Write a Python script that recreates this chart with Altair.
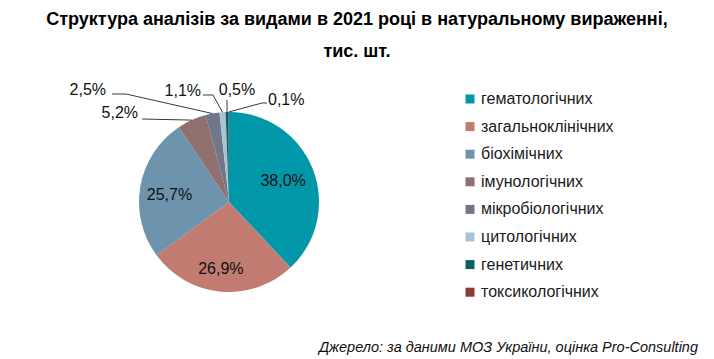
import math
import altair as alt
import pandas as pd

# ---------------- data ----------------
categories = ["гематологічних", "загальноклінічних", "біохімічних", "імунологічних",
              "мікробіологічних", "цитологічних", "генетичних", "токсикологічних"]
shares = [38.0, 26.9, 25.7, 5.2, 2.5, 1.1, 0.5, 0.1]
colors = ["#0098A8", "#C17B71", "#6E94AD", "#8F706E",
          "#71768A", "#A9C3D4", "#0C5F63", "#8B3B31"]
title_lines = ["Структура аналізів за видами в 2021 році в натуральному вираженні,",
               "тис. шт."]
source_text = "Джерело: за даними МОЗ України, оцінка Pro-Consulting"

# ---------------- layout ----------------
W, H = 698, 283
PAD_TOP, PAD_BOTTOM = 60, 6
CX, CY, R = 221, 134, 90
LABEL_R = 62
FONT = "Liberation Sans"

# inside label nudges (pixels, y down)
inside_nudge = {
    "гематологічних": (-3.5, 2),
    "загальноклінічних": (-2.5, 5),
    "біохімічних": (1.5, 4),
}
# outside label placement (pixel offsets from pie centre, y down)
outside_layout = {
    "імунологічних":    dict(tx=-91,  ty=-89,  align="right",  p0=(-87, -83),  p1=(-87, -83)),
    "мікробіологічних": dict(tx=-123, ty=-112, align="right",  p0=(-117, -108), p1=(-103, -108)),
    "цитологічних":     dict(tx=-28,  ty=-111, align="right",  p0=(-26, -107), p1=(-16, -107)),
    "генетичних":       dict(tx=8,    ty=-112, align="center", p0=(-2, -102),  p1=(-2, -102)),
    "токсикологічних":  dict(tx=39,   ty=-102, align="left",   p0=(38, -99),   p1=(33, -99)),
}


def fmt(v):
    return f"{v:.1f}".replace(".", ",") + "%"


df = pd.DataFrame({"cat": categories, "share": shares, "idx": list(range(len(categories)))})

# label positions and leader lines (units of the radius, y up)
total = sum(shares)
cum = 0.0
line_rows, lab_rows = [], []
for cat, s in zip(categories, shares):
    mid = (cum + s / 2) / total * 2 * math.pi
    cum += s
    if cat in inside_nudge:
        nx, ny = inside_nudge[cat]
        px, py = LABEL_R * math.sin(mid) + nx, -LABEL_R * math.cos(mid) + ny
        lab_rows.append({"cat": cat, "label": fmt(s), "align": "center",
                         "ux": px / R, "uy": -py / R})
        continue
    L = outside_layout[cat]
    edge = (R * math.sin(mid), -R * math.cos(mid))
    for k, p in enumerate([L["p0"], L["p1"], edge]):
        line_rows.append({"cat": cat, "k": k, "ux": p[0] / R, "uy": -p[1] / R})
    lab_rows.append({"cat": cat, "label": fmt(s), "align": L["align"],
                     "ux": L["tx"] / R, "uy": -L["ty"] / R})
lines_df = pd.DataFrame(line_rows)
labs_df = pd.DataFrame(lab_rows)

xs = alt.Scale(domain=[-CX / R, (W - CX) / R], nice=False, zero=False)
ys = alt.Scale(domain=[-(H - CY) / R, CY / R], nice=False, zero=False)

color = alt.Color("cat:N", scale=alt.Scale(domain=categories, range=colors),
                  legend=alt.Legend(title=None, orient="none", legendX=454, legendY=23,
                                    symbolType="square", symbolSize=81, symbolStrokeWidth=0,
                                    labelFontSize=16, labelFont=FONT, labelColor="#1a1a1a",
                                    rowPadding=11.6, labelOffset=3, padding=0, labelLimit=300))

pie = alt.Chart(df).mark_arc(outerRadius=R).encode(
    theta=alt.Theta("share:Q", stack=True),
    order=alt.Order("idx:Q"),
    color=color,
    x=alt.value(CX), y=alt.value(CY),
)

leaders = alt.Chart(lines_df).mark_line(color="#3a3a3a", strokeWidth=1).encode(
    x=alt.X("ux:Q", scale=xs, axis=None),
    y=alt.Y("uy:Q", scale=ys, axis=None),
    detail="cat:N",
    order="k:Q",
)

lab_layers = []
for al in ["left", "center", "right"]:
    lab_layers.append(
        alt.Chart(labs_df).transform_filter(alt.datum.align == al)
        .mark_text(align=al, baseline="middle", fontSize=16, font=FONT, color="#111111")
        .encode(x=alt.X("ux:Q", scale=xs, axis=None),
                y=alt.Y("uy:Q", scale=ys, axis=None),
                text="label:N")
    )

source = alt.Chart(pd.DataFrame({"t": [source_text]})).mark_text(
    align="right", baseline="alphabetic", fontSize=14.5, font=FONT, fontStyle="italic",
    color="#111111").encode(x=alt.value(W - 8), y=alt.value(H + 1), text="t:N")

chart = alt.layer(pie, leaders, *lab_layers, source).properties(
    width=W, height=H,
    background="white",
    autosize=alt.AutoSizeParams(type="none"),
    padding={"top": PAD_TOP, "left": 0, "right": 0, "bottom": PAD_BOTTOM},
    title=alt.TitleParams(text=title_lines, fontSize=18, font=FONT, fontWeight="bold",
                          anchor="middle", lineHeight=32, offset=7, color="#000000"),
).configure_view(stroke="transparent", strokeWidth=0)

chart.save("out.html", embed_options={"renderer": "svg", "actions": False})
